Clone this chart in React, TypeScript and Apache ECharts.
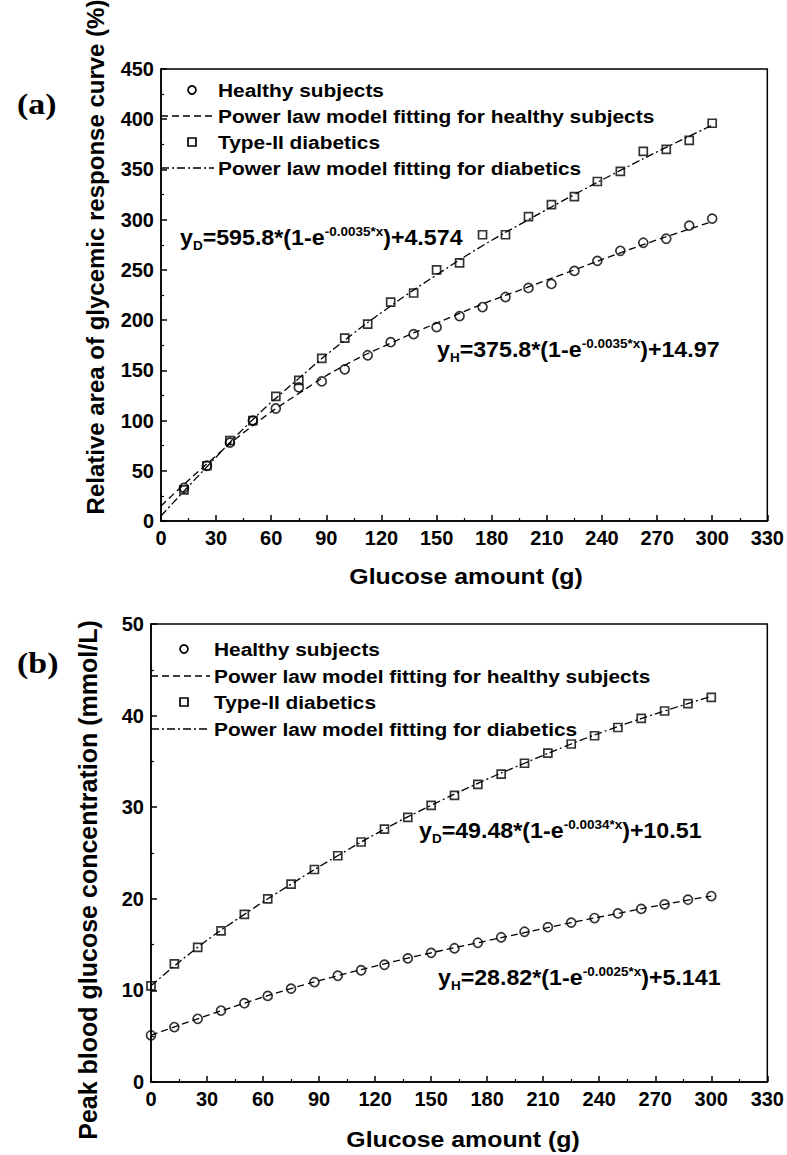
import React, { useEffect, useRef } from 'react';
import * as echarts from 'echarts';

// ---- Panel (a): relative area of glycemic response curve (%) ----
const doseA = [12.5, 25, 37.5, 50, 62.5, 75, 87.5, 100, 112.5, 125, 137.5, 150, 162.5, 175, 187.5, 200, 212.5, 225, 237.5, 250, 262.5, 275, 287.5, 300];
const healthyA = [33, 55, 78, 100, 112, 133, 139, 151, 165, 178, 186, 193, 204, 213, 223, 232, 236, 249, 259, 269, 277, 281, 294, 301];
const diabeticA = [31, 55, 80, 100, 124, 140, 162, 182, 196, 218, 227, 250, 257, 285, 285, 303, 315, 323, 338, 348, 368, 370, 379, 396];
const fitDoseA = [0, 25, 50, 75, 100, 125, 150, 175, 200, 225, 250, 275, 300];
const fitHealthyA = [15, 57, 95, 127, 155, 177, 197, 216, 233, 250, 267, 283, 298];
const fitDiabeticA = [5, 54, 101, 142, 180, 214, 245, 274, 300, 325, 349, 372, 394];

// ---- Panel (b): peak blood glucose concentration (mmol/L) ----
const doseB = [0, 12.5, 25, 37.5, 50, 62.5, 75, 87.5, 100, 112.5, 125, 137.5, 150, 162.5, 175, 187.5, 200, 212.5, 225, 237.5, 250, 262.5, 275, 287.5, 300];
const healthyB = [5.1, 6.0, 6.9, 7.8, 8.6, 9.4, 10.2, 10.9, 11.6, 12.2, 12.8, 13.5, 14.1, 14.6, 15.2, 15.8, 16.4, 16.9, 17.4, 17.9, 18.4, 18.9, 19.4, 19.9, 20.3];
const diabeticB = [10.5, 12.9, 14.7, 16.5, 18.3, 20.0, 21.6, 23.2, 24.7, 26.2, 27.6, 28.9, 30.2, 31.3, 32.5, 33.6, 34.8, 35.9, 36.9, 37.8, 38.7, 39.7, 40.5, 41.3, 42.0];
const fitDoseB = [0, 25, 50, 75, 100, 125, 150, 175, 200, 225, 250, 275, 300];
const fitHealthyB = [5.1, 6.9, 8.6, 10.2, 11.6, 12.9, 14.1, 15.2, 16.3, 17.4, 18.4, 19.4, 20.3];
const fitDiabeticB = [10.5, 14.7, 18.3, 21.6, 24.7, 27.6, 30.2, 32.6, 34.8, 36.9, 38.8, 40.5, 42.1];

const legendLabels = [
  'Healthy subjects',
  'Power law model fitting for healthy subjects',
  'Type-II diabetics',
  'Power law model fitting for diabetics',
];
const xTitle = 'Glucose amount (g)';
const yTitleA = 'Relative area of glycemic response curve (%)';
const yTitleB = 'Peak blood glucose concentration (mmol/L)';

const F = '"Liberation Sans", Arial, sans-serif';
const FS = '"Liberation Serif", "Times New Roman", serif';
const SX = 1.13; // horizontal stretch of the original figure's lettering
const SXE = 1.08; // stretch for the fitted equations

const zip = (xs: number[], ys: number[]) => xs.map((x, i) => [x, ys[i]]);

const DASH = [7, 4];
const DASHDOT = [8, 3, 2, 3];

function axisCommon() {
  return {
    axisLine: { show: true, lineStyle: { color: '#000', width: 1.5 } },
    axisTick: { show: true, inside: true, length: 6, lineStyle: { color: '#000', width: 1.5 } },
    minorTick: { show: true, splitNumber: 2, length: 3, lineStyle: { color: '#000', width: 1.2 } },
    splitLine: { show: false },
    axisLabel: { color: '#000', fontWeight: 'bold', fontSize: 20, fontFamily: F, margin: 7 },
  };
}
function xAxisCfg(gridIndex: number) {
  return { type: 'value', gridIndex, min: 0, max: 330, interval: 30, ...axisCommon() };
}
function yAxisCfg(gridIndex: number, max: number, interval: number) {
  return { type: 'value', gridIndex, min: 0, max, interval, ...axisCommon() };
}

function seriesFor(idx: number, dose: number[], h: number[], d: number[], fx: number[], fh: number[], fd: number[]) {
  return [
    {
      type: 'line', xAxisIndex: idx, yAxisIndex: idx, data: zip(fx, fh), smooth: true, showSymbol: false,
      lineStyle: { color: '#000', width: 1.3, type: DASH }, z: 2, silent: true,
    },
    {
      type: 'line', xAxisIndex: idx, yAxisIndex: idx, data: zip(fx, fd), smooth: true, showSymbol: false,
      lineStyle: { color: '#000', width: 1.3, type: DASHDOT }, z: 2, silent: true,
    },
    {
      type: 'scatter', xAxisIndex: idx, yAxisIndex: idx, data: zip(dose, h), symbol: 'circle', symbolSize: 9,
      itemStyle: { color: 'rgba(0,0,0,0)', borderColor: '#000', borderWidth: 1.7 }, z: 3,
    },
    {
      type: 'scatter', xAxisIndex: idx, yAxisIndex: idx, data: zip(dose, d), symbol: 'rect', symbolSize: 8,
      itemStyle: { color: 'rgba(0,0,0,0)', borderColor: '#000', borderWidth: 1.7 }, z: 3,
    },
  ];
}

function legendGraphics(lineX1: number, lineX2: number, markerX: number, textX: number, ys: number[]) {
  const els: any[] = [];
  els.push({ type: 'circle', shape: { cx: markerX, cy: ys[0], r: 4 }, style: { fill: 'none', stroke: '#000', lineWidth: 1.7 } });
  els.push({ type: 'line', shape: { x1: lineX1, y1: ys[1], x2: lineX2, y2: ys[1] }, style: { stroke: '#000', lineWidth: 1.4, lineDash: DASH } });
  els.push({ type: 'rect', shape: { x: markerX - 4, y: ys[2] - 4, width: 8, height: 8 }, style: { fill: 'none', stroke: '#000', lineWidth: 1.7 } });
  els.push({ type: 'line', shape: { x1: lineX1, y1: ys[3], x2: lineX2, y2: ys[3] }, style: { stroke: '#000', lineWidth: 1.4, lineDash: DASHDOT } });
  legendLabels.forEach((t, i) => {
    els.push({ type: 'text', x: textX, y: ys[i], scaleX: SX, style: { text: t, font: `bold 18.5px ${F}`, fill: '#000', align: 'left', verticalAlign: 'middle' } });
  });
  return els;
}

function equation(x: number, y: number, sub: string, a: string, sup: string, b: string) {
  return {
    type: 'text', x, y, scaleX: SXE,
    style: {
      text: `{m|y}{s|${sub}}{m|${a}}{p|${sup}}{m|${b}}`,
      align: 'left', verticalAlign: 'middle',
      rich: {
        m: { fontSize: 21.5, fontWeight: 'bold', fontFamily: F, fill: '#000', lineHeight: 30, verticalAlign: 'middle' },
        s: { fontSize: 12.5, fontWeight: 'bold', fontFamily: F, fill: '#000', lineHeight: 30, verticalAlign: 'bottom', padding: [0, 0, 1, 0] },
        p: { fontSize: 12.5, fontWeight: 'bold', fontFamily: F, fill: '#000', lineHeight: 30, verticalAlign: 'top', padding: [2, 0, 0, 0] },
      },
    },
  };
}

export default function App() {
  const ref = useRef<HTMLDivElement>(null);
  useEffect(() => {
    if (!ref.current) return;
    const chart = echarts.init(ref.current, null, { renderer: 'svg' });
    const option: any = {
      animation: false,
      backgroundColor: '#fff',
      grid: [
        { left: 161, top: 69, width: 609, height: 452, show: true, borderColor: '#000', borderWidth: 1.5, backgroundColor: 'transparent' },
        { left: 151, top: 624, width: 618, height: 458, show: true, borderColor: '#000', borderWidth: 1.5, backgroundColor: 'transparent' },
      ],
      xAxis: [xAxisCfg(0), xAxisCfg(1)],
      yAxis: [yAxisCfg(0, 450, 50), yAxisCfg(1, 50, 10)],
      series: [
        ...seriesFor(0, doseA, healthyA, diabeticA, fitDoseA, fitHealthyA, fitDiabeticA),
        ...seriesFor(1, doseB, healthyB, diabeticB, fitDoseB, fitHealthyB, fitDiabeticB),
      ],
      graphic: [
        { type: 'text', x: 17, y: 104, scaleX: SX, style: { text: '(a)', font: `bold 30px ${FS}`, fill: '#000', align: 'left', verticalAlign: 'middle' } },
        { type: 'text', x: 17, y: 663, scaleX: SX, style: { text: '(b)', font: `bold 30px ${FS}`, fill: '#000', align: 'left', verticalAlign: 'middle' } },
        { type: 'text', x: 95, y: 257, rotation: Math.PI / 2, style: { text: yTitleA, font: `bold 24px ${F}`, fill: '#000', align: 'center', verticalAlign: 'middle' } },
        { type: 'text', x: 88, y: 880, rotation: Math.PI / 2, style: { text: yTitleB, font: `bold 25px ${F}`, fill: '#000', align: 'center', verticalAlign: 'middle' } },
        { type: 'text', x: 466, y: 577, scaleX: SX, style: { text: xTitle, font: `bold 22px ${F}`, fill: '#000', align: 'center', verticalAlign: 'middle' } },
        { type: 'text', x: 463, y: 1140, scaleX: SX, style: { text: xTitle, font: `bold 22px ${F}`, fill: '#000', align: 'center', verticalAlign: 'middle' } },
        ...legendGraphics(161, 214, 192, 218, [90, 116, 142, 168]),
        ...legendGraphics(151, 210, 184, 214, [649, 676, 702, 729]),
        equation(180, 238, 'D', '=595.8*(1-e', '-0.0035*x', ')+4.574'),
        equation(437, 350, 'H', '=375.8*(1-e', '-0.0035*x', ')+14.97'),
        equation(419, 831, 'D', '=49.48*(1-e', '-0.0034*x', ')+10.51'),
        equation(438, 978, 'H', '=28.82*(1-e', '-0.0025*x', ')+5.141'),
      ],
    };
    chart.setOption(option);
    return () => chart.dispose();
  }, []);
  return <div ref={ref} style={{ position: 'absolute', left: 0, top: 0, width: 787, height: 1155 }} />;
}
